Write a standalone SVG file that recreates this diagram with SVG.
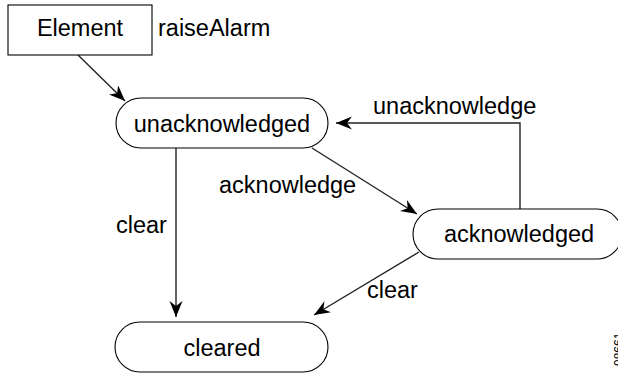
<svg xmlns="http://www.w3.org/2000/svg" width="618" height="373" viewBox="0 0 618 373">
<style>
text{font-family:"Liberation Sans",Arial,Helvetica,sans-serif;font-size:23.5px;fill:#000}
.c{text-anchor:middle}
.n{fill:#fff;stroke:#000;stroke-width:1.1}
.e{fill:none;stroke:#222;stroke-width:1.4;marker-end:url(#ah)}
</style>
<defs>
<marker id="ah" markerUnits="userSpaceOnUse" markerWidth="18" markerHeight="14" refX="16" refY="6.5" orient="auto">
<path d="M0,0 L16,6.5 L0,13 L5,6.5 z" fill="#000"/>
</marker>
</defs>
<rect width="618" height="373" fill="#fff"/>
<g id="connectors">
<path class="e" d="M78,55 L125,101"/>
<path class="e" d="M176,148 L176,317"/>
<path class="e" d="M312,148 L417,214"/>
<path class="e" d="M520,209 L520,123 L336,123"/>
<path class="e" d="M419,252 L314,315"/>
<text x="158" y="36">raiseAlarm</text>
<text x="116" y="233">clear</text>
<text x="219" y="193">acknowledge</text>
<text x="373" y="114">unacknowledge</text>
<text x="367" y="298">clear</text>
</g>
<g id="element">
<rect class="n" x="8" y="5" width="144" height="50"/>
<text class="c" x="80" y="36">Element</text>
</g>
<g id="unacknowledged">
<rect class="n" x="116" y="98" width="212" height="50" rx="25" ry="25"/>
<text class="c" x="222" y="132">unacknowledged</text>
</g>
<g id="acknowledged">
<rect class="n" x="413" y="209" width="209" height="50" rx="25" ry="25"/>
<text class="c" x="519" y="242">acknowledged</text>
</g>
<g id="cleared">
<rect class="n" x="115" y="322" width="213" height="50" rx="25" ry="25"/>
<text class="c" x="222" y="356">cleared</text>
</g>
<text transform="translate(623,366) rotate(-90)" style="font-size:12px">98661</text>
</svg>
